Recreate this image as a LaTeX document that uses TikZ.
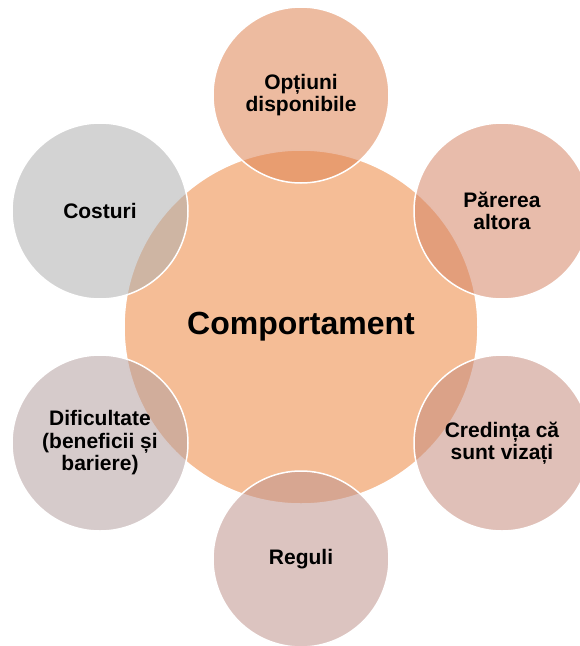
\documentclass[tikz,border=0pt]{standalone}
\usepackage{fontspec}
\setmainfont{Liberation Sans}
\definecolor{cmain}{HTML}{F5BD96}
\definecolor{cA}{HTML}{DE8352}
\definecolor{cB}{HTML}{D58566}
\definecolor{cC}{HTML}{C78D7E}
\definecolor{cD}{HTML}{C0948D}
\definecolor{cE}{HTML}{B5A0A0}
\definecolor{cF}{HTML}{AFAFAF}
\tikzset{
  hub/.style={circle, fill=cmain, draw=white, line width=1.5pt, minimum size=354pt, inner sep=0pt,
    font=\fontsize{32}{36}\selectfont\bfseries},
  spoke/.style={circle, fill=#1, fill opacity=0.55, text opacity=1, draw=white, draw opacity=1,
    line width=1.5pt, minimum size=176pt, inner sep=0pt, align=center,
    font=\fontsize{21}{22.5}\selectfont\bfseries}
}
\begin{document}
\begin{tikzpicture}[x=1pt,y=1pt]
\useasboundingbox (0,0) rectangle (579,-646);
\node[hub] (c) at (301,-327) {Comportament};
\node[spoke=cA] (a) at (301,-95) {Opțiuni\\disponibile};
\node[spoke=cB] (b) at (502,-211) {Părerea\\altora};
\node[spoke=cC] (d) at (502,-443) {Credința că\\sunt vizați};
\node[spoke=cD] (e) at (301,-559) {Reguli};
\node[spoke=cE] (f) at (100,-443) {Dificultate\\(beneficii și\\bariere)};
\node[spoke=cF] (g) at (100,-211) {Costuri};
\end{tikzpicture}
\end{document}
